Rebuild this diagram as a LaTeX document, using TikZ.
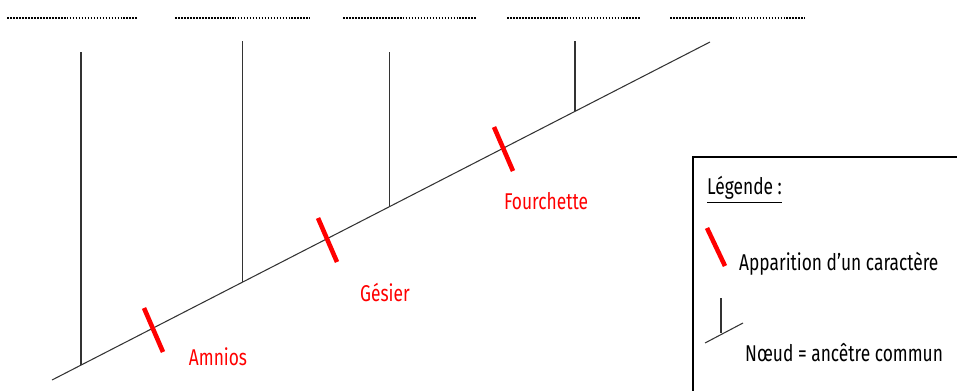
\documentclass[tikz,border=0pt]{standalone}
\usepackage{fontspec}
\setmainfont{Fira Sans}
\newfontfamily\narrowfont[FakeStretch=0.76]{Fira Sans}
\usepackage{tikz}
\usetikzlibrary{positioning,calc}

\tikzset{
  branch/.style={black!80, line width=0.6pt},
  trait/.style={red, line width=2.6pt},
  blank/.style={black, line width=1.2pt, dash pattern=on 1pt off 0.7pt},
  traitlabel/.style={red, font=\narrowfont\fontsize{13}{15}\selectfont, anchor=center},
  legtext/.style={black, font=\narrowfont\fontsize{13}{15}\selectfont, anchor=west}
}

\begin{document}
\begin{tikzpicture}[x=0.02cm,y=-0.02cm]
  \useasboundingbox (0,0) rectangle (957,390);

  % blanks to fill in
  \foreach \xa/\xb in {7/138, 175/310, 343/477, 507/641, 670/805}
    \draw[blank] (\xa,18) -- (\xb,18);

  % main axis and its nodes
  \coordinate (root) at (52,380);
  \coordinate (tip) at (710,42);
  \draw[branch] (root) -- (tip);
  \coordinate (n1) at ($(root)!0.0441!(tip)$);
  \coordinate (n2) at ($(root)!0.2888!(tip)$);
  \coordinate (n3) at ($(root)!0.5122!(tip)$);
  \coordinate (n4) at ($(root)!0.7948!(tip)$);

  \draw[branch] (n1) -- (n1 |- 0,52);
  \draw[branch] (n2) -- (n2 |- 0,41);
  \draw[branch] (n3) -- (n3 |- 0,52);
  \draw[branch] (n4) -- (n4 |- 0,41);

  % characters
  \draw[trait] (144,308) -- (163,352);
  \node[traitlabel] (amnios) at (218,357) {Amnios};
  \draw[trait] (318,218) -- (337,262);
  \node[traitlabel] (gesier) at (385,292) {Gésier};
  \draw[trait] (494,127) -- (513,171);
  \node[traitlabel] (fourch) at (546,201) {Fourchette};

  % legend
  \draw[black, line width=0.8pt] (693,400) -- (693,157) -- (965,157);
  \node[legtext] (legtitle) at (701,190) {\underline{Légende :}};
  \draw[trait] (707,228) -- (725,266);
  \node[legtext] (legtrait) at (733,264) {Apparition d’un caractère};
  \coordinate (legn) at (721,333);
  \draw[branch] (705,343) -- (743,323);
  \draw[branch] (legn) -- (721,298);
  \node[legtext] (legnode) at (739,353) {Nœud = ancêtre commun};
\end{tikzpicture}
\end{document}
